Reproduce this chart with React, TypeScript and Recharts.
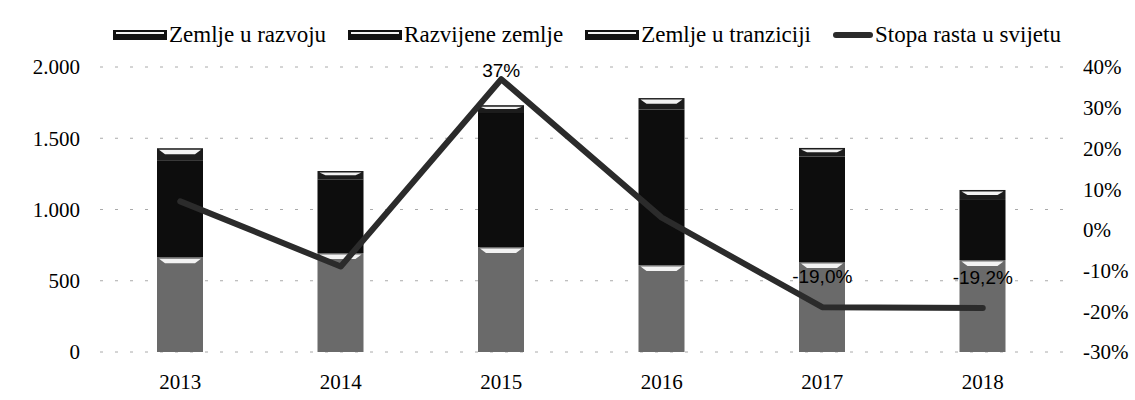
import React from 'react';
import { ComposedChart, Bar, Line, XAxis, YAxis, CartesianGrid, Legend, LabelList } from 'recharts';

const years = ['2013', '2014', '2015', '2016', '2017', '2018'];
const razvoj = [665, 695, 737, 610, 632, 646];
const razvijene = [680, 515, 940, 1092, 740, 421];
const tranzicija = [85, 60, 55, 80, 60, 70];
const stopaRasta = [0.07, -0.09, 0.37, 0.03, -0.19, -0.192];
const stopaLabels = ['', '', '37%', '', '-19,0%', '-19,2%'];
const legendOrder = ['Zemlje u razvoju', 'Razvijene zemlje', 'Zemlje u tranziciji', 'Stopa rasta u svijetu'];

const leftTicks = [0, 500, 1000, 1500, 2000];
const rightTicks = [-0.3, -0.2, -0.1, 0, 0.1, 0.2, 0.3, 0.4];

const data = years.map((godina, i) => ({
  godina,
  razvoj: razvoj[i],
  razvijene: razvijene[i],
  tranzicija: tranzicija[i],
  stopa: stopaRasta[i],
  oznaka: stopaLabels[i],
}));

const serif = '"Liberation Serif", "Times New Roman", serif';

// bar with the white bevel stripe seen on top of each segment in the scan
const BevelBar = (props: any) => {
  const { x, y, width, height, fill } = props;
  if (!height || height <= 0) return null;
  const bev = Math.min(6, height / 2);
  return (
    <g>
      <rect x={x} y={y} width={width} height={height} fill={fill} />
      <polygon
        points={`${x + 2},${y + 1.5} ${x + width - 2},${y + 1.5} ${x + width - 8},${y + bev} ${x + 8},${y + bev}`}
        fill="#f2f2f2"
      />
    </g>
  );
};

const StopaLabel = (props: any) => {
  const { x, y, value } = props;
  if (!value) return null;
  const dy = value === '37%' ? -2 : -24;
  return (
    <text x={x} y={y + dy} textAnchor="middle" fontFamily='"Liberation Sans", Arial, sans-serif' fontSize={19} fill="#000">
      {value}
    </text>
  );
};

const LegendContent = (props: any) => {
  const payload = [...(props.payload || [])].sort(
    (a: any, b: any) => legendOrder.indexOf(a.value) - legendOrder.indexOf(b.value)
  );
  return (
    <div style={{ display: 'flex', alignItems: 'center', paddingLeft: 113, fontFamily: serif, fontSize: 23, color: '#000', lineHeight: '26px' }}>
      {payload.map((entry: any) => (
        <div key={entry.value} style={{ display: 'flex', alignItems: 'center', marginRight: 22 }}>
          {entry.type === 'line' ? (
            <svg width={40} height={10} style={{ marginRight: 2 }}>
              <line x1={3} y1={5} x2={37} y2={5} stroke="#2b2b2b" strokeWidth={6} strokeLinecap="round" />
            </svg>
          ) : (
            <svg width={54} height={10} style={{ marginRight: 2 }}>
              <rect x={0} y={0} width={54} height={10} fill="#111" />
              <rect x={3} y={2} width={48} height={2} fill="#f2f2f2" />
            </svg>
          )}
          <span>{entry.value}</span>
        </div>
      ))}
    </div>
  );
};

export default function App() {
  return (
    <div style={{ position: 'absolute', top: 0, left: 0, width: 1135, height: 400, background: '#fff' }}>
      <ComposedChart width={1135} height={400} data={data} margin={{ top: 67, right: 0, bottom: 0, left: 0 }} barSize={46}>
        <CartesianGrid yAxisId="lijevo" vertical={false} stroke="#aaa" strokeDasharray="3 12" />
        <XAxis
          dataKey="godina"
          height={48}
          axisLine={false}
          tickLine={false}
          tickSize={0}
          tickMargin={22}
          tick={{ fontFamily: serif, fontSize: 21, fill: '#000' }}
        />
        <YAxis
          yAxisId="lijevo"
          width={100}
          domain={[0, 2000]}
          ticks={leftTicks}
          axisLine={false}
          tickLine={false}
          tickSize={0}
          tickMargin={20}
          tickFormatter={(v: number) => v.toLocaleString('de-DE')}
          tick={{ fontFamily: serif, fontSize: 21, fill: '#000' }}
        />
        <YAxis
          yAxisId="desno"
          orientation="right"
          width={72}
          domain={[-0.3, 0.4]}
          ticks={rightTicks}
          axisLine={false}
          tickLine={false}
          tickSize={0}
          tickMargin={20}
          tickFormatter={(v: number) => `${Math.round(v * 100)}%`}
          tick={{ fontFamily: serif, fontSize: 21, fill: '#000' }}
        />
        <Legend verticalAlign="middle" align="center" wrapperStyle={{ top: 22, left: 0, width: 1135 }} content={<LegendContent />} />
        <Bar yAxisId="lijevo" dataKey="razvoj" name="Zemlje u razvoju" stackId="a" fill="#6a6a6a" shape={<BevelBar />} isAnimationActive={false} />
        <Bar yAxisId="lijevo" dataKey="razvijene" name="Razvijene zemlje" stackId="a" fill="#0d0d0d" isAnimationActive={false} />
        <Bar yAxisId="lijevo" dataKey="tranzicija" name="Zemlje u tranziciji" stackId="a" fill="#1c1c1c" shape={<BevelBar />} isAnimationActive={false} />
        <Line
          yAxisId="desno"
          dataKey="stopa"
          name="Stopa rasta u svijetu"
          type="linear"
          stroke="#2b2b2b"
          strokeWidth={6}
          strokeLinecap="round"
          strokeLinejoin="round"
          dot={false}
          legendType="line"
          isAnimationActive={false}
        >
          <LabelList dataKey="oznaka" content={<StopaLabel />} />
        </Line>
      </ComposedChart>
    </div>
  );
}
